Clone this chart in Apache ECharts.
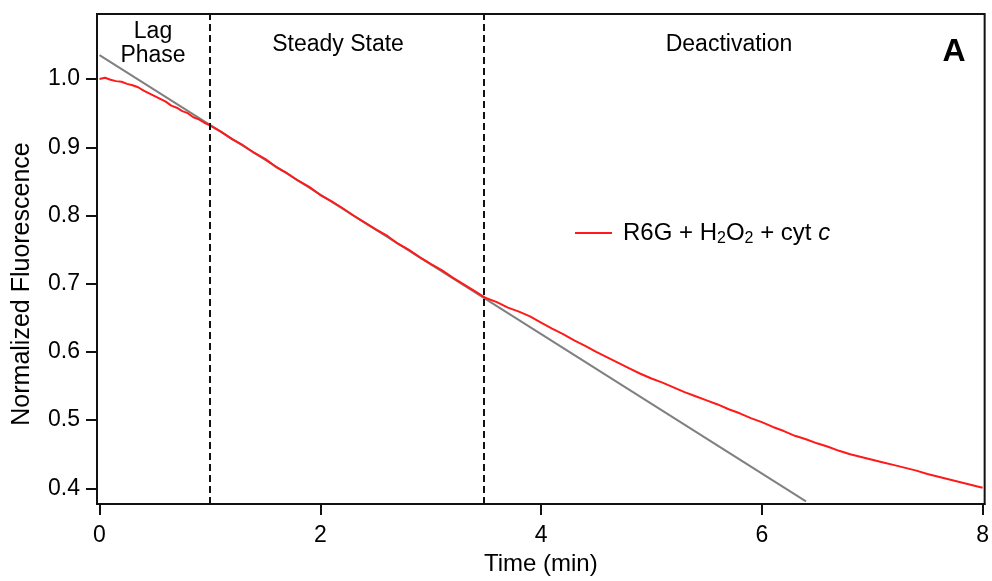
<!DOCTYPE html>
<html>
<head>
<meta charset="utf-8">
<script src="https://cdn.jsdelivr.net/npm/echarts@6/dist/echarts.min.js"></script>
<style>
html,body{margin:0;padding:0;background:#fff;}
#chart{width:992px;height:581px;}
</style>
</head>
<body>
<div id="chart"></div>
<script>
// ---- data ----
var times = [0.00,0.05,0.10,0.15,0.20,0.25,0.30,0.35,0.40,0.45,0.50,0.55,0.60,0.65,0.70,0.75,0.80,0.85,0.90,0.95,
  1.0,1.1,1.2,1.3,1.4,1.5,1.6,1.7,1.8,1.9,2.0,2.1,2.2,2.3,2.4,2.5,2.6,2.7,2.8,2.9,3.0,3.1,3.2,3.3,3.4,3.5,3.6,3.7,3.8,3.9,
  4.0,4.1,4.2,4.3,4.4,4.5,4.6,4.7,4.8,4.9,5.0,5.1,5.2,5.3,5.4,5.5,5.6,5.7,5.8,5.9,6.0,6.1,6.2,6.3,6.4,6.5,6.6,6.7,6.8,6.9,
  7.0,7.1,7.2,7.3,7.4,7.5,7.6,7.7,7.8,7.9,8.0];
var fluorescence = [1.000,1.002,0.999,0.997,0.996,0.993,0.991,0.988,0.983,0.979,0.975,0.971,0.967,0.961,0.958,0.953,0.950,0.944,0.941,0.936,
  0.932,0.923,0.912,0.903,0.892,0.883,0.871,0.862,0.851,0.842,0.830,0.821,0.811,0.800,0.790,0.780,0.771,0.759,0.750,0.739,
  0.729,0.720,0.709,0.699,0.689,0.679,0.673,0.665,0.659,0.652,
  0.643,0.634,0.626,0.617,0.609,0.600,0.592,0.584,0.576,0.568,0.561,0.555,0.548,0.541,0.535,0.529,0.523,0.516,0.510,0.503,
  0.497,0.490,0.484,0.477,0.472,0.466,0.461,0.455,0.450,0.446,0.442,0.438,0.434,0.430,0.426,0.421,0.417,0.413,0.409,0.405,0.401];
var fitTimes = [0, 6.40];
var fitValues = [1.035, 0.381];
var phaseBoundaries = [1.0, 3.48];
var phaseNames = ['Lag\nPhase', 'Steady State', 'Deactivation'];
var xTicks = [0, 2, 4, 6, 8];
var yTicks = [0.4, 0.5, 0.6, 0.7, 0.8, 0.9, 1.0];
var seriesName = 'R6G + H2O2 + cyt c';
var xTitle = 'Time (min)';
var yTitle = 'Normalized Fluorescence';
var panelLabel = 'A';

var FONT = '"Liberation Sans", Arial, Helvetica, sans-serif';

var chart = echarts.init(document.getElementById('chart'), null, {renderer: 'canvas'});

var redData = times.map(function (t, i) { return [t, fluorescence[i]]; });
var fitData = fitTimes.map(function (t, i) { return [t, fitValues[i]]; });

var option = {
  animation: false,
  backgroundColor: '#fff',
  textStyle: {fontFamily: FONT, color: '#000'},
  grid: {left: 97, right: 5, top: 14, bottom: 70, show: true, borderColor: '#111', borderWidth: 2, containLabel: false},
  xAxis: {
    type: 'value', min: -0.0226, max: 8.0185,
    name: xTitle, nameLocation: 'middle', nameGap: 44,
    nameTextStyle: {fontSize: 24, fontFamily: FONT, color: '#000'},
    axisLine: {show: true, onZero: false, lineStyle: {color: '#111', width: 2}},
    axisTick: {show: true, length: 11, lineStyle: {color: '#111', width: 2}, customValues: xTicks},
    axisLabel: {fontSize: 23, color: '#000', fontFamily: FONT, margin: 20, customValues: xTicks,
      formatter: function (v) { return String(Math.round(v)); }},
    splitLine: {show: false}
  },
  yAxis: {
    type: 'value', min: 0.3769, max: 1.0954,
    axisLine: {show: true, onZero: false, lineStyle: {color: '#111', width: 2}},
    axisTick: {show: true, length: 11, lineStyle: {color: '#111', width: 2}, customValues: yTicks},
    axisLabel: {fontSize: 23, color: '#000', fontFamily: FONT, margin: 17, customValues: yTicks,
      formatter: function (v) { return v.toFixed(1); }},
    splitLine: {show: false}
  },
  legend: {
    show: true, left: 575, top: 221, orient: 'vertical', padding: 0,
    data: [{name: seriesName, icon: 'rect'}],
    itemWidth: 37, itemHeight: 2,
    textStyle: {
      fontSize: 24, fontFamily: FONT, color: '#000', padding: [0, 0, 0, 6],
      rich: {
        b: {fontSize: 24, fontFamily: FONT, color: '#000', lineHeight: 28, verticalAlign: 'middle'},
        sub: {fontSize: 16, fontFamily: FONT, color: '#000', lineHeight: 11, verticalAlign: 'bottom'},
        it: {fontSize: 24, fontFamily: FONT, color: '#000', fontStyle: 'italic', lineHeight: 28, verticalAlign: 'middle'}
      }
    },
    formatter: function () {
      return '{b|R6G + H}{sub|2}{b|O}{sub|2}{b| + cyt }{it|c}';
    }
  },
  series: [
    {
      name: 'fit', type: 'line', data: fitData, showSymbol: false, symbol: 'none',
      lineStyle: {color: '#808080', width: 2}, z: 2, silent: true,
      markLine: {
        silent: true, symbol: ['none', 'none'],
        label: {show: false},
        lineStyle: {color: '#111', width: 2, type: [7, 4]},
        data: phaseBoundaries.map(function (b) { return {xAxis: b}; })
      }
    },
    {
      name: seriesName, type: 'line', data: redData, showSymbol: false, symbol: 'none',
      lineStyle: {color: '#ff1a1a', width: 2}, itemStyle: {color: '#ff1a1a'}, z: 3
    }
  ],
  graphic: [
    {type: 'text', x: 153, y: 20, style: {text: phaseNames[0], fontSize: 23, fontFamily: FONT, fill: '#000', align: 'center', verticalAlign: 'top', lineHeight: 24}, z: 10},
    {type: 'text', x: 338, y: 45, style: {text: phaseNames[1], fontSize: 23, fontFamily: FONT, fill: '#000', align: 'center', verticalAlign: 'middle'}, z: 10},
    {type: 'text', x: 729, y: 45, style: {text: phaseNames[2], fontSize: 23, fontFamily: FONT, fill: '#000', align: 'center', verticalAlign: 'middle'}, z: 10},
    {type: 'text', x: 954, y: 52, style: {text: panelLabel, fontSize: 32, fontWeight: 'bold', fontFamily: FONT, fill: '#000', align: 'center', verticalAlign: 'middle'}, z: 10},
    {type: 'text', x: 22, y: 284, rotation: Math.PI / 2, style: {text: yTitle, fontSize: 25, fontFamily: FONT, fill: '#000', align: 'center', verticalAlign: 'middle'}, z: 10}
  ]
};
chart.setOption(option);
</script>
</body>
</html>
